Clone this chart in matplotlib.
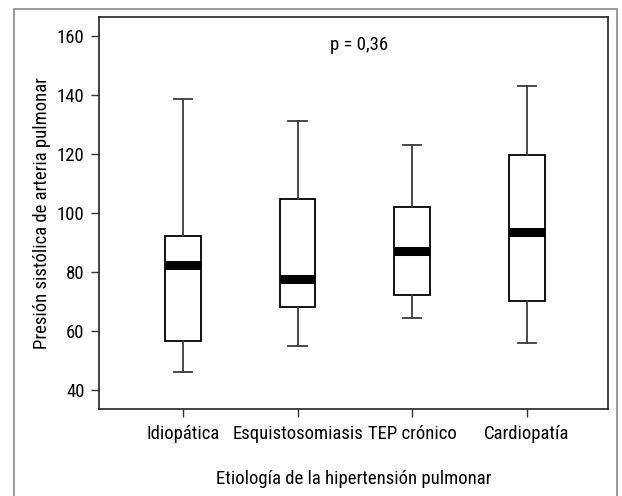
import matplotlib
matplotlib.use("Agg")
import matplotlib.pyplot as plt
from matplotlib.patches import Rectangle
from matplotlib import font_manager

categories = ["Idiopática", "Esquistosomiasis", "TEP crónico", "Cardiopatía"]
whisker_low = [46.0, 55.0, 64.3, 56.0]
q1 = [56.5, 68.0, 72.1, 70.2]
median = [82.4, 77.6, 87.0, 93.7]
q3 = [92.1, 104.7, 101.9, 119.7]
whisker_high = [138.7, 131.2, 123.1, 142.9]
yticks = [40, 60, 80, 100, 120, 140, 160]

names = {f.name for f in font_manager.fontManager.ttflist}
fam = ["Liberation Sans Narrow", "Roboto Condensed", "Archivo Narrow"]
fam = [f for f in fam if f in names][:1] + ["DejaVu Sans"]
plt.rcParams["font.family"] = fam

fig = plt.figure(figsize=(6.22, 4.96), dpi=100)
ax = fig.add_axes([99.3 / 622, 1 - 408.7 / 496, (608.3 - 99.3) / 622, (408.7 - 16.7) / 496])

stats = []
for i, c in enumerate(categories):
    stats.append(dict(label=c, whislo=whisker_low[i], q1=q1[i], med=median[i],
                      q3=q3[i], whishi=whisker_high[i], fliers=[]))
pos = list(range(1, len(categories) + 1))
ax.bxp(stats, positions=pos, widths=0.31, showfliers=False, patch_artist=True,
       boxprops=dict(facecolor="white", edgecolor="black", linewidth=1.3),
       medianprops=dict(color="black", linewidth=6.5, solid_capstyle="butt"),
       whiskerprops=dict(color="#3a3a3a", linewidth=1.3),
       capprops=dict(color="#3a3a3a", linewidth=1.3),
       capwidths=0.16)

ax.set_xlim(0.27, 4.71)
ax.set_ylim(33.7, 166.5)
ax.set_yticks(yticks)
ax.set_xticks(pos)
ax.set_xticklabels(categories)
fs = 13.5
ax.tick_params(axis="both", labelsize=fs, length=5.5, width=1.0, color="#333333")
ax.tick_params(axis="x", pad=6)
ax.tick_params(axis="y", pad=5)
for s in ax.spines.values():
    s.set_linewidth(1.2)
    s.set_color("#222222")

ax.set_ylabel("Presión sistólica de arteria pulmonar", fontsize=fs, labelpad=4)
ax.set_xlabel("Etiología de la hipertensión pulmonar", fontsize=fs, labelpad=20)
ax.text(0.51, 0.928, "p = 0,36", transform=ax.transAxes, ha="center", va="center", fontsize=fs)

fig.patches.append(Rectangle((14 / 622, -0.05), (617 - 14) / 622, 1.05 - 9 / 496,
                             transform=fig.transFigure, fill=False,
                             edgecolor="#888888", linewidth=1.2))

fig.savefig("out.png", dpi=100)
